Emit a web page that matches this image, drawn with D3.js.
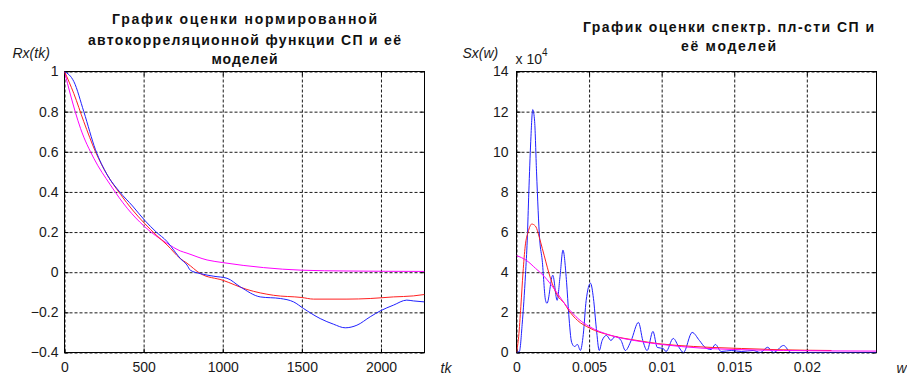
<!DOCTYPE html>
<html>
<head>
<meta charset="utf-8">
<script src="https://cdn.jsdelivr.net/npm/d3@7"></script>
<style>
  body { margin: 0; background: #fff; }
  svg { display: block; font-family: 'Liberation Sans', Arial, sans-serif; }
  .ticks text { font-size: 14px; fill: #1a1a1a; }
  .title { font-size: 14px; font-weight: bold; fill: #111; }
  .label { font-size: 14px; font-style: italic; fill: #1a1a1a; }
</style>
</head>
<body>
<svg id="chart" width="907" height="376"></svg>
<script>
// Left panel: normalized autocorrelation estimate and its models.
const acfTicksX = [0, 500, 1000, 1500, 2000];
const acfTicksY = [-0.4, -0.2, 0, 0.2, 0.4, 0.6, 0.8, 1];

const acfBlueT = [0, 59, 122, 196, 270, 349, 430, 505, 580, 648, 700, 732, 774, 795, 859, 943, 1027, 1111, 1237, 1364, 1448, 1511, 1616, 1700, 1774, 1848, 1932, 1995, 2079, 2163, 2205, 2275];
const acfBlueR = [1, 0.95, 0.80, 0.61, 0.485, 0.40, 0.33, 0.26, 0.20, 0.153, 0.10, 0.068, 0.036, 0.01, -0.007, -0.02, -0.03, -0.073, -0.123, -0.131, -0.148, -0.181, -0.231, -0.259, -0.277, -0.264, -0.222, -0.193, -0.164, -0.139, -0.143, -0.148];

const acfRedT = [0, 59, 122, 196, 270, 354, 430, 505, 580, 648, 732, 774, 859, 1000, 1153, 1321, 1500, 1574, 1785, 1932, 2079, 2205, 2275];
const acfRedR = [1, 0.89, 0.75, 0.60, 0.485, 0.388, 0.31, 0.244, 0.185, 0.136, 0.068, 0.045, -0.007, -0.04, -0.086, -0.115, -0.126, -0.134, -0.134, -0.131, -0.123, -0.118, -0.111];

const acfMagT = [0, 38, 101, 185, 290, 396, 505, 648, 732, 774, 901, 1000, 1258, 1500, 1785, 2275];
const acfMagR = [1, 0.883, 0.717, 0.568, 0.435, 0.319, 0.228, 0.144, 0.106, 0.095, 0.061, 0.048, 0.023, 0.01, 0.006, 0.004];

// Right panel: spectral density estimate (x 10^4) and its models.
const psdTicksX = [0, 0.005, 0.01, 0.015, 0.02];
const psdTickLabelsX = ['0', '0.005', '0.01', '0.015', '0.02'];
const psdTicksY = [0, 2, 4, 6, 8, 10, 12, 14];

const psdBlueW = [0, 0.0002, 0.00039, 0.00062, 0.00074, 0.00085, 0.00098, 0.00112, 0.00125, 0.00138, 0.0016, 0.00177, 0.0020, 0.0021, 0.0025, 0.0028, 0.0030, 0.0032, 0.00345, 0.0036, 0.0038, 0.0040, 0.0042, 0.0044, 0.0046, 0.0048, 0.0051, 0.0053, 0.0055, 0.0057, 0.0059, 0.0062, 0.0065, 0.0068, 0.0072, 0.0075, 0.0079, 0.0084, 0.0087, 0.0090, 0.0094, 0.0097, 0.0101, 0.0103, 0.0108, 0.0112, 0.0115, 0.0121, 0.0126, 0.0130, 0.0134, 0.0137, 0.0141, 0.0148, 0.0155, 0.0163, 0.0168, 0.0173, 0.0177, 0.0184, 0.0189, 0.0248];
const psdBlueS = [0, 0.05, 1.4, 3.9, 5.6, 8, 10.5, 12.1, 11.5, 9, 5.6, 4.6, 2.6, 2.45, 3.85, 2.6, 3.8, 5.1, 3.5, 1.9, 0.5, 0.3, 0.4, 0.1, 0.9, 2.6, 3.45, 2.7, 1.2, 0.1, 0.6, 0.85, 0.6, 0.8, 0.6, 0.1, 0.6, 1.5, 0.6, 0.1, 1.05, 0.25, 0.2, 0.05, 0.7, 0.25, 0, 1.0, 0.6, 0.25, 0.15, 0.4, 0.05, 0.1, 0.05, 0.1, 0, 0.26, 0, 0.35, 0, 0];

const psdRedW = [0, 0.00015, 0.0003, 0.00045, 0.0006, 0.0008, 0.00105, 0.0013, 0.00166, 0.0019, 0.00234, 0.0028, 0.0033, 0.0036, 0.0042, 0.005, 0.0065, 0.0083, 0.0099, 0.0122, 0.0135, 0.0155, 0.018, 0.0217];
const psdRedS = [0, 0.8, 2.3, 4.0, 5.3, 6.0, 6.4, 6.3, 5.5, 4.85, 3.7, 2.86, 2.45, 2.1, 1.6, 1.23, 0.85, 0.6, 0.43, 0.3, 0.25, 0.2, 0.14, 0.1];

const psdMagW = [0, 0.0007, 0.0013, 0.0019, 0.0026, 0.0035, 0.0043, 0.005, 0.0065, 0.0081, 0.01, 0.0127, 0.015, 0.0184, 0.0248];
const psdMagS = [4.83, 4.58, 4.2, 3.8, 3.17, 2.26, 1.65, 1.3, 0.85, 0.6, 0.4, 0.22, 0.15, 0.1, 0.07];

let svg = d3.select('#chart');
let root = svg.append('g').attr('transform', 'translate(0.5, 0.5)');

const plotTop = 71, plotHeight = 281, plotWidth = 360;

const zip = (xs, ys) => xs.map((x, i) => [x, ys[i]]);

const drawPanel = (opt) => {
  let g = root.append('g').attr('transform', 'translate(' + opt.left + ', ' + plotTop + ')');

  let xScale = d3.scaleLinear().domain(opt.xDomain).range([0, plotWidth]);
  let yScale = d3.scaleLinear().domain(opt.yDomain).range([plotHeight, 0]);

  svg.append('defs')
      .append('clipPath')
      .attr('id', opt.id + '-clip')
      .append('rect')
      .attr('x', opt.left + 0.5)
      .attr('y', plotTop + 0.5)
      .attr('width', plotWidth)
      .attr('height', plotHeight);

  // Dashed grid.
  let gridX = g.append('g')
      .attr('transform', 'translate(0, ' + plotHeight + ')')
      .call(d3.axisBottom(xScale).tickValues(opt.xTicks).tickSize(-plotHeight).tickFormat(() => ''));
  let gridY = g.append('g')
      .call(d3.axisLeft(yScale).tickValues(opt.yTicks).tickSize(-plotWidth).tickFormat(() => ''));
  [gridX, gridY].forEach((gr) => {
    gr.select('.domain').remove();
    gr.selectAll('line')
        .attr('stroke', '#1a1a1a')
        .attr('stroke-dasharray', '3,2');
  });

  // Curves.
  let line = d3.line()
      .x((d) => xScale(d[0]))
      .y((d) => yScale(d[1]))
      .curve(d3.curveMonotoneX);

  let curves = svg.append('g').attr('clip-path', 'url(#' + opt.id + '-clip)')
      .append('g')
      .attr('transform', 'translate(' + (opt.left + 0.5) + ', ' + (plotTop + 0.5) + ')');
  opt.series.forEach((s) => {
    curves.append('path')
        .datum(s.data)
        .attr('fill', 'none')
        .attr('stroke', s.color)
        .attr('stroke-width', 1)
        .attr('d', line);
  });

  // Ticks (inside, on all four sides) and labels.
  let axes = [
    g.append('g')
        .attr('class', 'ticks')
        .attr('transform', 'translate(0, ' + plotHeight + ')')
        .call(d3.axisBottom(xScale).tickValues(opt.xTicks).tickSize(-4).tickPadding(10)
            .tickFormat((d, i) => opt.xLabels ? opt.xLabels[i] : d3.format('')(d))),
    g.append('g')
        .attr('class', 'ticks')
        .call(d3.axisTop(xScale).tickValues(opt.xTicks).tickSize(-4).tickFormat(() => '')),
    g.append('g')
        .attr('class', 'ticks')
        .call(d3.axisLeft(yScale).tickValues(opt.yTicks).tickSize(-4).tickPadding(opt.yPad)
            .tickFormat((d) => d3.format('')(+d.toFixed(2)))),
    g.append('g')
        .attr('class', 'ticks')
        .attr('transform', 'translate(' + plotWidth + ', 0)')
        .call(d3.axisRight(yScale).tickValues(opt.yTicks).tickSize(-4).tickFormat(() => ''))
  ];
  axes.forEach((a) => {
    a.select('.domain').remove();
    a.selectAll('line').attr('stroke', '#000');
  });

  // Frame.
  g.append('rect')
      .attr('width', plotWidth)
      .attr('height', plotHeight)
      .attr('fill', 'none')
      .attr('stroke', '#000')
      .attr('stroke-width', 1);

  // Title lines.
  opt.title.forEach((t) => {
    root.append('text')
        .attr('class', 'title')
        .attr('x', opt.titleX)
        .attr('y', t.y)
        .attr('text-anchor', 'middle')
        .attr('textLength', t.len)
        .attr('lengthAdjust', 'spacing')
        .text(t.text);
  });
};

// Create left panel.
drawPanel({
  id: 'acf',
  left: 64,
  xDomain: [0, 2275],
  yDomain: [-0.4, 1],
  xTicks: acfTicksX,
  yTicks: acfTicksY,
  yPad: 6,
  titleX: 244,
  title: [
    { text: 'График оценки нормированной', y: 23, len: 265 },
    { text: 'автокорреля\u0446ионной функции СП и её', y: 44, len: 313 },
    { text: 'моделей', y: 63, len: 66 }
  ],
  series: [
    { color: '#ff00ff', data: zip(acfMagT, acfMagR) },
    { color: '#ff2020', data: zip(acfRedT, acfRedR) },
    { color: '#2020ff', data: zip(acfBlueT, acfBlueR) }
  ]
});

// Create right panel.
drawPanel({
  id: 'psd',
  left: 516,
  xDomain: [0, 0.0248],
  yDomain: [0, 14],
  xTicks: psdTicksX,
  xLabels: psdTickLabelsX,
  yTicks: psdTicksY,
  yPad: 8,
  titleX: 728,
  title: [
    { text: 'График оценки спектр. пл-сти СП и', y: 31, len: 291 },
    { text: 'её моделей', y: 50, len: 95 }
  ],
  series: [
    { color: '#2020ff', data: zip(psdBlueW, psdBlueS) },
    { color: '#ff2020', data: zip(psdRedW, psdRedS) },
    { color: '#ff00ff', data: zip(psdMagW, psdMagS) }
  ]
});

// Axis names and exponent.
root.append('text').attr('class', 'label').attr('x', 12).attr('y', 57).text('Rx(tk)');
root.append('text').attr('class', 'label').attr('x', 440).attr('y', 372).text('tk');
root.append('text').attr('class', 'label').attr('x', 462).attr('y', 57).text('Sx(w)');
root.append('text').attr('class', 'label').attr('x', 896).attr('y', 372).text('w');

let expo = root.append('text')
    .attr('x', 515)
    .attr('y', 63)
    .style('font-size', '14px')
    .style('fill', '#1a1a1a');
expo.append('tspan').text('x 10');
expo.append('tspan').attr('dy', -8).style('font-size', '10px').text('4');
</script>
</body>
</html>
